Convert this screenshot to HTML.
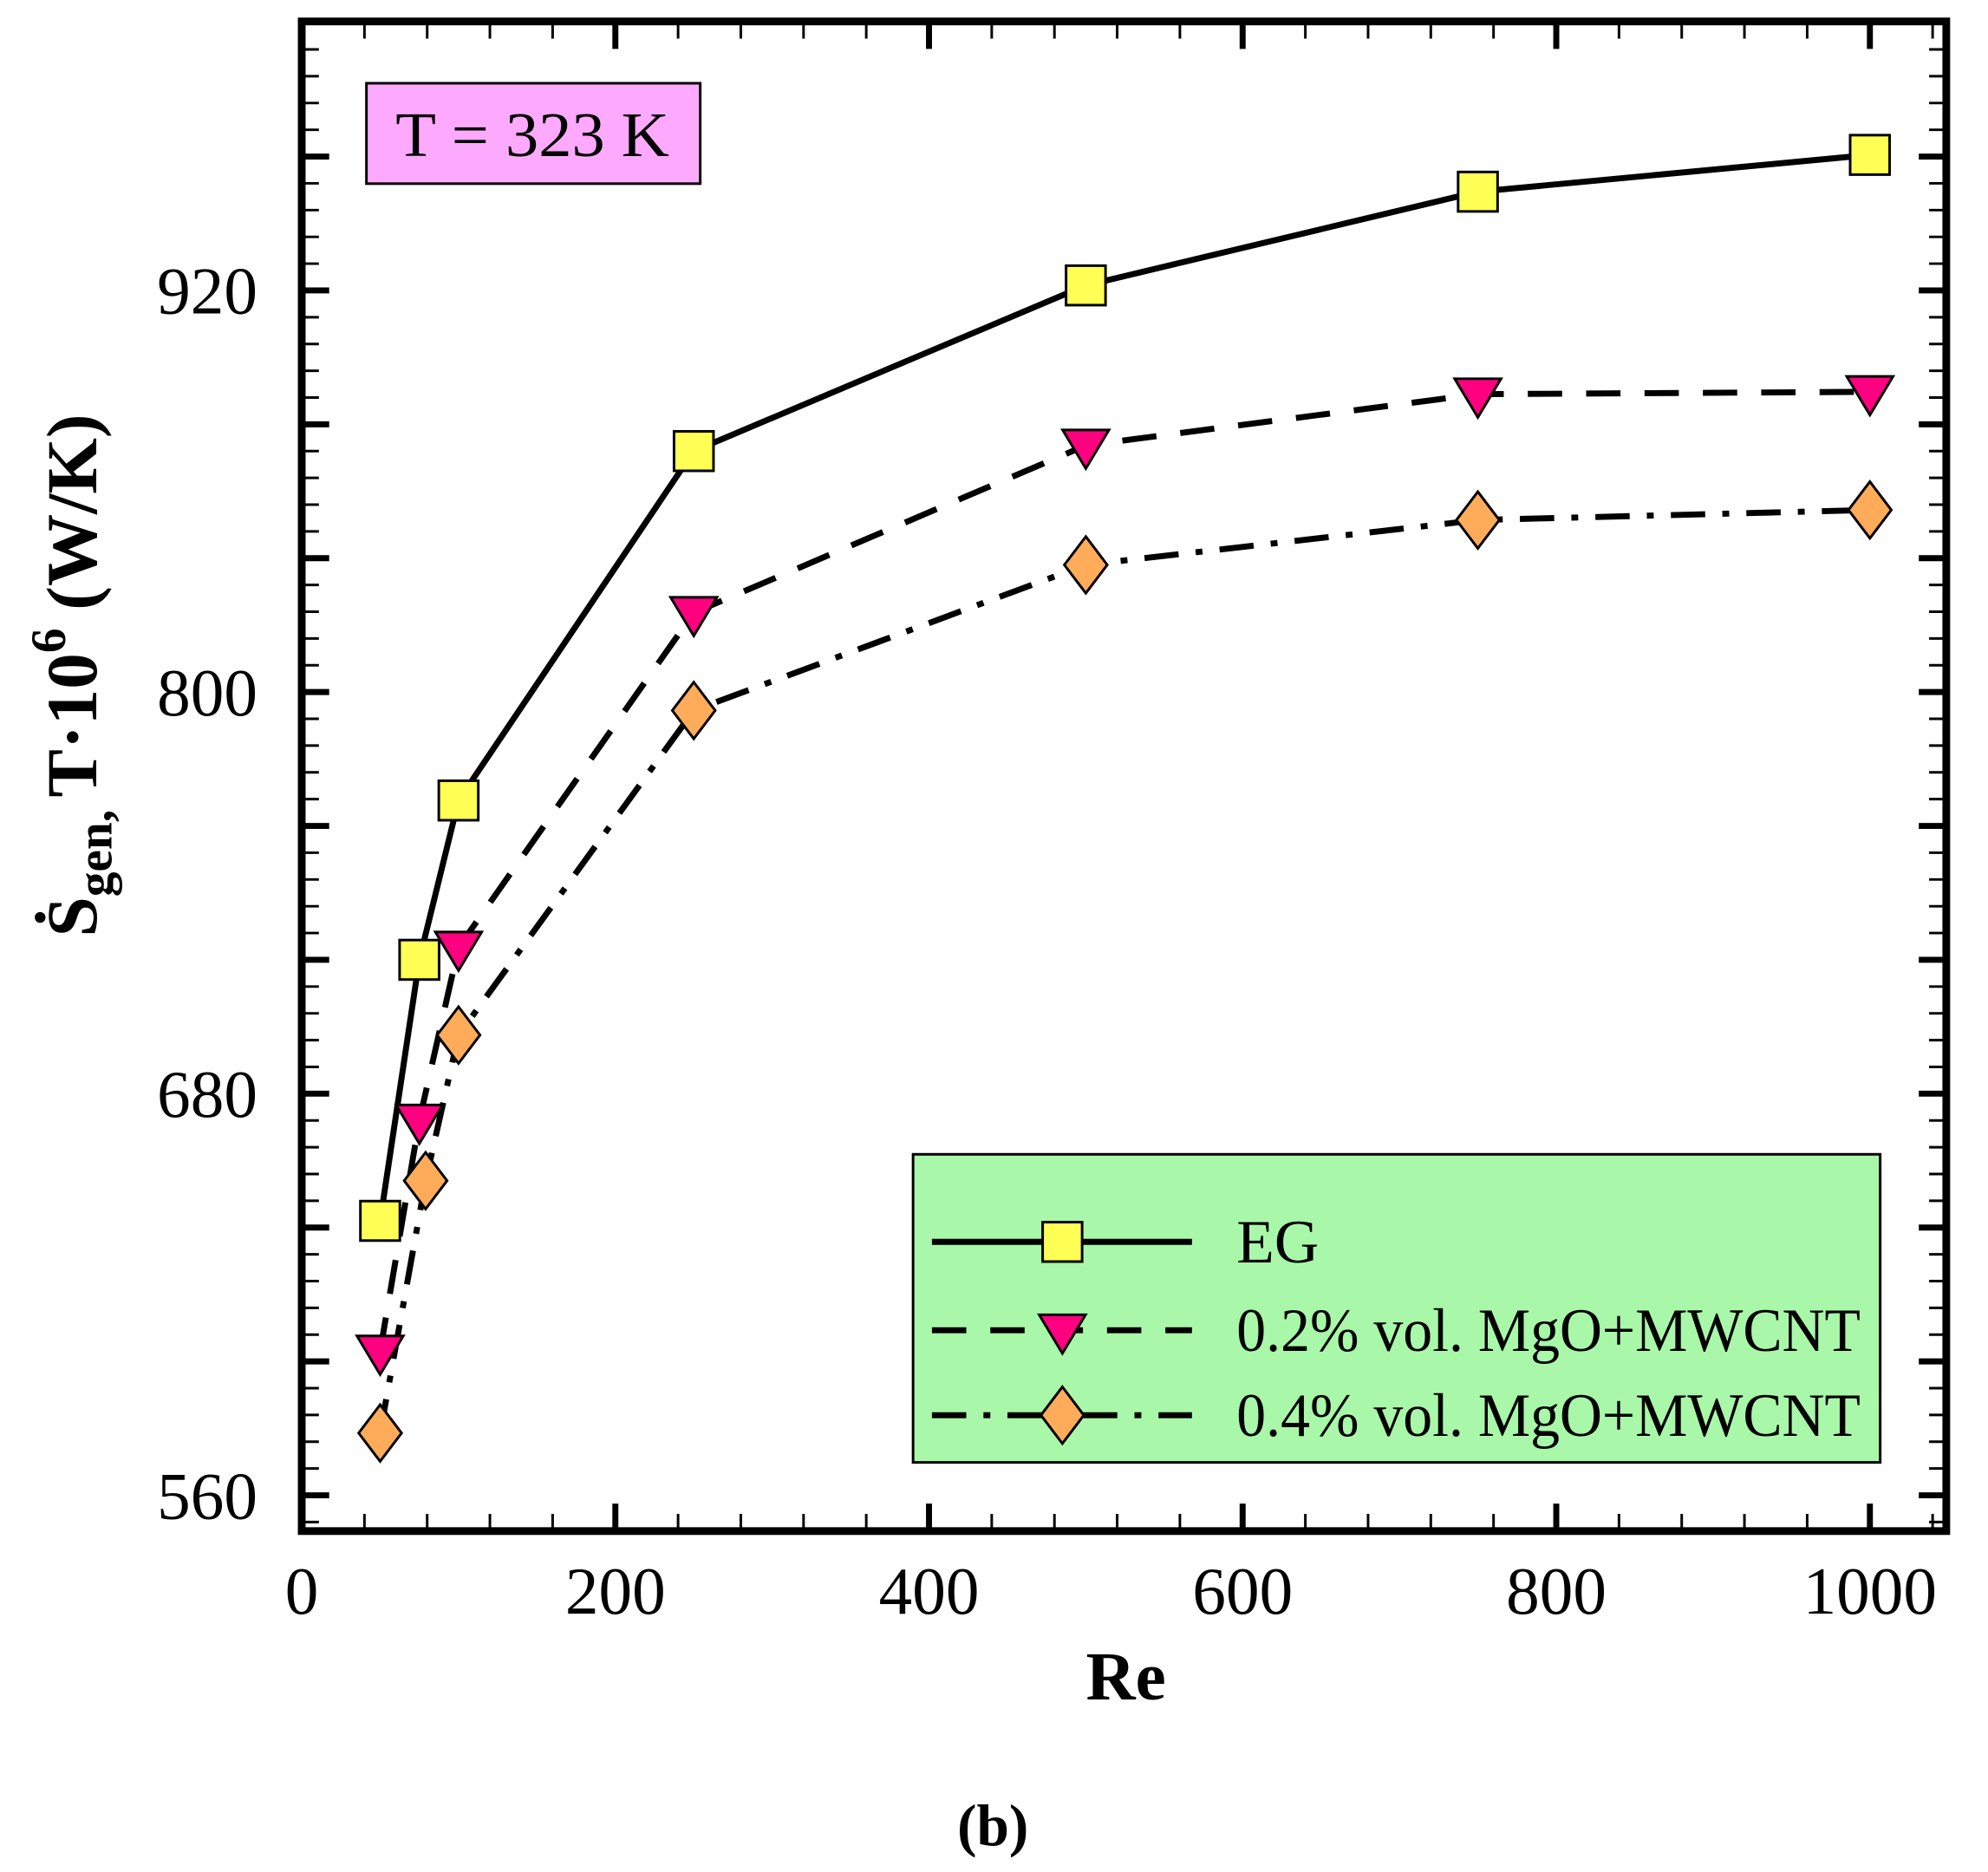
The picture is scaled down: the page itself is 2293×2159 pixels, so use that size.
<!DOCTYPE html>
<html><head><meta charset="utf-8"><style>
html,body{margin:0;padding:0;background:#fff}
svg{display:block}
text{font-family:"Liberation Serif","Times New Roman",serif;fill:#000}
</style></head><body>
<svg id="chart" width="2293" height="2159" viewBox="0 0 2293 2159" xmlns="http://www.w3.org/2000/svg">
<g transform="scale(0.9898)">
<g id="ticks"></g>
<g id="series"></g>
<rect x="351.6" y="25" width="1916.4" height="1759" fill="none" stroke="#000" stroke-width="9"/>
<g id="labels"></g>
<g>
<rect x="427" y="97" width="389" height="117" fill="#fda9fd" stroke="#000" stroke-width="3"/>
<text x="461" y="182" font-size="74" textLength="319" lengthAdjust="spacingAndGlyphs">T = 323 K</text>
</g>
<g id="legend">
<rect x="1064" y="1345" width="1127" height="359" fill="#a9f7a9" stroke="#000" stroke-width="3"/>
</g>
<text transform="translate(112,787) rotate(-90)" text-anchor="middle" font-size="84" font-weight="bold">Ṡ<tspan font-size="58" dy="18">gen, </tspan><tspan dy="-18">T·10</tspan><tspan font-size="58" dy="-36">6</tspan><tspan dy="36"> (W/K)</tspan></text>
<text x="1312" y="1980" text-anchor="middle" font-size="80" font-weight="bold">Re</text>
<text x="1157" y="2150" text-anchor="middle" font-size="68" font-weight="bold">(b)</text>
</g>
</svg>
<script>
const categoriesEG = [50, 75, 100, 250, 500, 750, 1000];
const valuesEG = [642, 720, 767.6, 872, 921.5, 949.5, 960.5];
const categoriesMg02 = [50, 75, 100, 250, 500, 750, 1000];
const valuesMg02 = [603, 672, 723.7, 823.7, 873.7, 889, 889.7];
const categoriesMg04 = [50, 79, 100, 250, 500, 750, 1000];
const valuesMg04 = [578.6, 654, 697.5, 794.5, 838, 851.4, 854.4];
const xTickLabels = [0, 200, 400, 600, 800, 1000];
const yTickLabels = [560, 680, 800, 920];
const legendLabels = ["EG", "0.2% vol. MgO+MWCNT", "0.4% vol. MgO+MWCNT"];

const NS = "http://www.w3.org/2000/svg";
const L = 351.6, R = 2268, T = 25, B = 1784;
function X(v){ return 351.6 + v * (2179 - 351.6) / 1000; }
function Y(v){ return 1742.3 - (v - 560) * 3.8997; }
function mk(tag, attrs, parent){ const e = document.createElementNS(NS, tag); for (const k in attrs) e.setAttribute(k, attrs[k]); parent.appendChild(e); return e; }

const tg = document.getElementById('ticks');
for (let v = 40; v < 1048; v += 40) {
  const major = v % 200 === 0;
  const len = major ? 32 : 20, w = major ? 7 : 3;
  let t = mk('line', {x1: X(v), x2: X(v), y1: B, y2: B - len, stroke: '#000', 'stroke-width': w}, tg);
  
  
  t = mk('line', {x1: X(v), x2: X(v), y1: T, y2: T + len, stroke: '#000', 'stroke-width': w}, tg);
  
  
}
for (let v = 552; v < 1000; v += 8) {
  if (Y(v) > B - 2) continue;
  const major = v % 40 === 0;
  const len = major ? 32 : 20, w = major ? 7 : 3;
  let t = mk('line', {x1: L, x2: L + len, y1: Y(v), y2: Y(v), stroke: '#000', 'stroke-width': w}, tg);
  
  
  t = mk('line', {x1: R, x2: R - len, y1: Y(v), y2: Y(v), stroke: '#000', 'stroke-width': w}, tg);
  
  
}
const lg = document.getElementById('labels');
xTickLabels.forEach(v => {
  const t = mk('text', {x: X(v), y: 1880, 'text-anchor': 'middle', 'font-size': 78}, lg);
  t.textContent = v;
  
  
});
yTickLabels.forEach(v => {
  const t = mk('text', {x: 300, y: Y(v) + 27, 'text-anchor': 'end', 'font-size': 78}, lg);
  t.textContent = v;
  
  
});

const styles = [
  {dash: 'none', fill: '#ffff55', shape: 'square', name: 'eg'},
  {dash: '40 28', fill: '#ff0080', shape: 'triangle', name: 'mg02'},
  {dash: '40 20 8 20', fill: '#ffac5a', shape: 'diamond', name: 'mg04'}
];
function marker(shape, cx, cy, fill, parent){
  let e;
  if (shape === 'square') e = mk('rect', {x: cx - 23, y: cy - 23, width: 46, height: 46, fill: fill, stroke: '#000', 'stroke-width': 3}, parent);
  else if (shape === 'triangle') e = mk('polygon', {points: `${cx-27},${cy-18} ${cx+27},${cy-18} ${cx},${cy+27}`, fill: fill, stroke: '#000', 'stroke-width': 3}, parent);
  else e = mk('polygon', {points: `${cx},${cy-33} ${cx+25},${cy} ${cx},${cy+33} ${cx-25},${cy}`, fill: fill, stroke: '#000', 'stroke-width': 3}, parent);
  return e;
}
const sg = document.getElementById('series');
const allCats = [categoriesEG, categoriesMg02, categoriesMg04];
const allVals = [valuesEG, valuesMg02, valuesMg04];
allVals.forEach((vals, i) => {
  const s = styles[i];
  const pts = vals.map((v, j) => X(allCats[i][j]) + ',' + Y(v)).join(' ');
  const pl = mk('polyline', {points: pts, fill: 'none', stroke: '#000', 'stroke-width': 7, 'stroke-dasharray': s.dash}, sg);
  
  
});
allVals.forEach((vals, i) => {
  const s = styles[i];
  vals.forEach((v, j) => {
    const m = marker(s.shape, X(allCats[i][j]), Y(v), s.fill, sg);
    
    
  });
});
const lgd = document.getElementById('legend');
const ly = [1447, 1550, 1649];
legendLabels.forEach((lab, i) => {
  const s = styles[i];
  const ln = mk('line', {x1: 1086, x2: 1389, y1: ly[i], y2: ly[i], stroke: '#000', 'stroke-width': 7, 'stroke-dasharray': s.dash}, lgd);
  
  
  const m = marker(s.shape, 1238, ly[i], s.fill, lgd);
  
  
  const t = mk('text', {x: 1441, y: ly[i] + 24, 'font-size': 72}, lgd);
  if (i > 0) { t.setAttribute('textLength', 727); t.setAttribute('lengthAdjust', 'spacingAndGlyphs'); }
  t.textContent = lab;
  
  
});
</script>
</body></html>
